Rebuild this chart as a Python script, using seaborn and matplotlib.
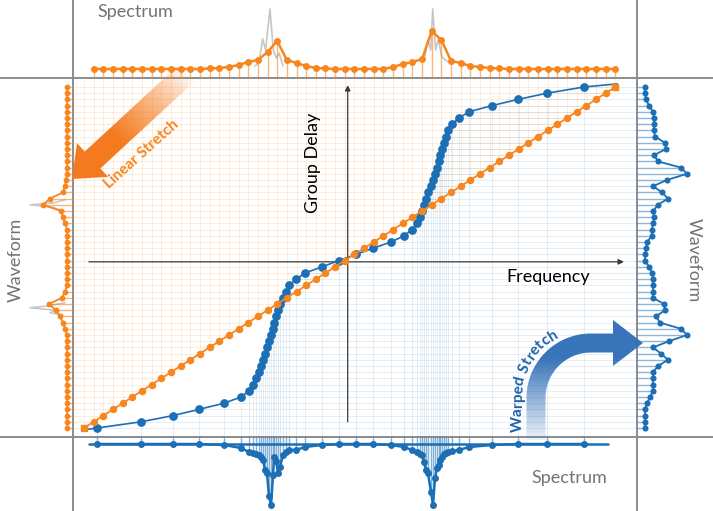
import numpy as np
import matplotlib.pyplot as plt
import seaborn as sns
from matplotlib.patches import FancyArrow, Polygon
from matplotlib.textpath import TextPath
from matplotlib.font_manager import FontProperties

# ---------------------------------------------------------------
# Data: frequency in bins, group delay / time in samples
# ---------------------------------------------------------------
delay_samples = np.arange(56)          # uniform time grid (both stretches)
linear_freq = np.arange(56)            # linear stretch: one bin per sample

# warped stretch: frequency bin reached at each delay sample
warped_freq = [1.35, 5.90, 9.21, 11.90, 14.49, 16.25, 17.08, 17.49, 17.81, 18.12,
               18.32, 18.53, 18.74, 18.94, 19.15, 19.36, 19.57, 19.67, 19.88, 20.08,
               20.29, 20.60, 20.91, 21.22, 21.95, 22.88, 24.64, 26.40, 28.16, 29.92,
               31.78, 33.13, 33.95, 34.47, 34.78, 34.99, 35.20, 35.40, 35.61, 35.92,
               36.13, 36.34, 36.54, 36.75, 36.85, 37.06, 37.27, 37.47, 37.68, 38.10,
               38.82, 39.86, 42.24, 44.93, 47.93, 51.76]
warped_ends_freq = [-0.1, 55.2]
warped_ends_delay = [-0.3, 55.5]

# top spectrum (orange samples, bins 1..55)
linear_spectrum_bins = np.arange(1, 56)
linear_spectrum = [9, 9, 9, 9, 9, 9, 9, 9, 9, 9, 9, 9,
                   9.5, 10, 11, 13, 16, 18, 26, 37, 18, 15, 12, 10, 9.5,
                   9, 9, 9, 9, 9, 9,
                   11, 14, 16, 19, 47, 38, 17, 15, 12, 11, 10, 9.5,
                   9, 9, 9, 9, 9, 9, 9, 9, 9, 9, 9, 9]

# continuous (gray) spectrum around the two resonances
gray_peak1_freq = [17.7, 18.1, 18.5, 18.8, 19.25, 19.6, 19.9, 20.2, 20.6]
gray_peak1_mag = [12, 15, 39, 28, 69, 28, 20, 25, 12]
gray_peak2_freq = [34.8, 35.3, 35.6, 35.9, 36.1, 36.4, 36.7, 37.0, 37.4, 37.9]
gray_peak2_mag = [18, 22, 38, 28, 69, 28, 39, 22, 18, 15]

# bottom spectrum (blue samples at warped bins), drawn downward
warped_spectrum = [7, 7, 7, 7, 8, 11, 15, 16, 17, 18, 20, 23, 33, 36, 59, 68,
                   38, 20, 24, 36, 30, 18, 15, 13, 13, 10, 8, 7, 7, 7, 8, 10,
                   13, 15, 17, 18, 25, 33, 36, 55, 68, 41, 31, 28, 23, 20, 17,
                   16, 15, 14, 13, 10, 8, 7, 7, 7]
warped_spectrum_ends = [0.5, 54.2]     # baseline extent of the blue spectrum trace

# waveforms (amplitude per delay sample)
linear_waveform = [6, 6, 6, 6, 6, 6, 6, 6, 6, 6, 6, 6, 6, 6, 6, 6,
                   8, 10, 13, 17, 24, 11, 8,
                   6, 6, 6, 6, 6, 6, 6, 6, 6, 6,
                   8, 10, 12, 30, 23, 10, 8, 7,
                   6, 6, 6, 6, 6, 6, 6, 6, 6, 6, 6, 6, 6, 6, 6]
gray_wave1_delay = [18.2, 18.6, 19.0, 19.4, 19.7, 20.2]
gray_wave1_amp = [10, 23, 18, 43, 25, 8]
gray_wave2_delay = [35.0, 35.3, 35.6, 36.0, 36.3, 36.8]
gray_wave2_amp = [10, 15, 20, 43, 20, 8]

warped_waveform = [8, 8, 8, 8, 10, 13, 16, 16, 16, 16, 21, 31, 24, 16, 32, 50,
                   44, 23, 19, 28, 27, 16, 16, 16, 16, 15, 12, 8, 8, 9, 10, 15,
                   15, 16, 17, 16, 21, 31, 25, 16, 30, 50, 44, 21, 17, 29, 28,
                   18, 17, 17, 17, 16, 12, 9, 8, 8]

ORANGE = '#f7861e'
BLUE = '#1c6fb5'
GRAY = '#8c8c8c'
TEXT_GRAY = '#737373'

sns.set_theme(style="white")
plt.rcParams['font.family'] = ['Lato', 'DejaVu Sans']

W, H = 713, 511
fig = plt.figure(figsize=(W / 100, H / 100), dpi=100)


def px_axes(x0, y0, x1, y1, **kw):
    """Axes placed by pixel box (top-left origin)."""
    a = fig.add_axes([x0 / W, 1 - y1 / H, (x1 - x0) / W, (y1 - y0) / H], **kw)
    a.axis('off')
    return a


FREQ_LIM = (-1.14, 57.25)
DELAY_LIM = (-1.45, 56.45)
line_kw = dict(estimator=None, sort=False, markeredgewidth=0)

# ---- background frame lines ----
back = px_axes(0, 0, W, H, zorder=-1)
back.set_xlim(0, W)
back.set_ylim(H, 0)
for yy in (78, 437):
    back.plot([0, W], [yy, yy], color=GRAY, lw=1.4)
for xx in (73, 637):
    back.plot([xx, xx], [0, H], color=GRAY, lw=1.4)

# ---- main group delay panel ----
ax = px_axes(73, 78, 637, 437)
ax.set_xlim(FREQ_LIM)
ax.set_ylim(DELAY_LIM)
ax.vlines(linear_freq, delay_samples, DELAY_LIM[1], color=ORANGE, alpha=0.2, lw=0.55)
ax.hlines(delay_samples, FREQ_LIM[0], linear_freq, color=ORANGE, alpha=0.2, lw=0.55)
ax.vlines(warped_freq, DELAY_LIM[0], delay_samples, color=BLUE, alpha=0.13, lw=0.6)
ax.hlines(delay_samples, warped_freq, FREQ_LIM[1], color=BLUE, alpha=0.13, lw=0.6)

arrow_kw = dict(arrowstyle='-|>', color='#3a3a3a', lw=0.9, mutation_scale=8,
                shrinkA=0, shrinkB=0)
ax.annotate('', xy=(55.9, 26.8), xytext=(0.5, 26.8), arrowprops=arrow_kw)
ax.annotate('', xy=(27.3, 55.3), xytext=(27.3, 1.0), arrowprops=arrow_kw)

blue_x = np.r_[warped_ends_freq[0], warped_freq, warped_ends_freq[1]]
blue_y = np.r_[warped_ends_delay[0], delay_samples, warped_ends_delay[1]]
sns.lineplot(x=blue_x, y=blue_y, ax=ax, color=BLUE, linewidth=1.2, marker='o',
             markersize=6.3, markevery=list(range(1, len(blue_x) - 1)), zorder=3, **line_kw)
sns.lineplot(x=linear_freq, y=delay_samples, ax=ax, color=ORANGE, linewidth=1.3,
             marker='o', markersize=5.4, markevery=list(range(1, 55)), zorder=4, **line_kw)
ax.plot(linear_freq[[0, -1]], delay_samples[[0, -1]], 's', color=ORANGE, ms=4.5, zorder=5)

# ---- top spectrum (linear) ----
top = px_axes(73, 0, 637, 78)
top.set_xlim(FREQ_LIM)
top.set_ylim(0, 78)
top.plot(gray_peak1_freq, gray_peak1_mag, color='#c6c6c6', lw=1.2)
top.plot(gray_peak2_freq, gray_peak2_mag, color='#c6c6c6', lw=1.2)
top.vlines(linear_spectrum_bins, 0, linear_spectrum, color=ORANGE, alpha=0.6, lw=1)
sns.lineplot(x=linear_spectrum_bins, y=linear_spectrum, ax=top, color=ORANGE,
             linewidth=1.8, marker='o', markersize=5, **line_kw)

# ---- bottom spectrum (warped) ----
bot = px_axes(73, 437, 637, 511)
bot.set_xlim(FREQ_LIM)
bot.set_ylim(74, 0)
bot.plot(warped_spectrum_ends, [warped_spectrum[0], warped_spectrum[-1]],
         color=BLUE, lw=1.8)
bot.vlines(warped_freq, 0, warped_spectrum, color=BLUE, alpha=0.55, lw=1)
sns.lineplot(x=warped_freq, y=warped_spectrum, ax=bot, color=BLUE,
             linewidth=1.8, marker='o', markersize=5, **line_kw)

# ---- left waveform (linear) ----
left = px_axes(0, 78, 73, 437)
left.set_xlim(73, 0)
left.set_ylim(DELAY_LIM)
left.plot(gray_wave1_amp, gray_wave1_delay, color='#c6c6c6', lw=1.1)
left.plot(gray_wave2_amp, gray_wave2_delay, color='#c6c6c6', lw=1.1)
left.hlines(delay_samples, 0, linear_waveform, color=ORANGE, alpha=0.6, lw=1)
sns.lineplot(x=linear_waveform, y=delay_samples, ax=left, color=ORANGE,
             linewidth=1.3, marker='o', markersize=4.2, **line_kw)

# ---- right waveform (warped) ----
right = px_axes(637, 78, 713, 437)
right.set_xlim(0, 76)
right.set_ylim(DELAY_LIM)
right.hlines(delay_samples, 0, warped_waveform, color=BLUE, alpha=0.5, lw=1)
sns.lineplot(x=warped_waveform, y=delay_samples, ax=right, color=BLUE,
             linewidth=1.3, marker='o', markersize=4.4, **line_kw)

# ---- overlay: labels and stretch arrows ----
over = px_axes(0, 0, W, H, zorder=10)
over.set_xlim(0, W)
over.set_ylim(H, 0)
YY, XX = np.mgrid[0:H, 0:W] + 0.5


def gradient_fill(patch, color, alpha):
    patch.set_facecolor('none')
    patch.set_edgecolor('none')
    over.add_patch(patch)
    img = np.zeros((H, W, 4))
    img[..., :3] = plt.matplotlib.colors.to_rgb(color)
    img[..., 3] = alpha
    im = over.imshow(img, extent=(0, W, H, 0), origin='upper', aspect='auto',
                     interpolation='bilinear')
    im.set_clip_path(patch)


# linear stretch arrow (straight, fading toward its tail)
tail = np.array([190.0, 70.0])
tip = np.array([72.0, 179.0])
d = tip - tail
orange_arrow = FancyArrow(tail[0], tail[1], d[0], d[1], width=23, head_width=46,
                          head_length=28, length_includes_head=True)
t = ((XX - tail[0]) * d[0] + (YY - tail[1]) * d[1]) / (d @ d)
gradient_fill(orange_arrow, '#f47a1f', np.clip((t - 0.02) / 0.6, 0, 1) ** 0.85)

# warped stretch arrow (quarter bend, fading toward its bottom)
cx, cy = 591.0, 398.0
phi = np.linspace(0, np.pi / 2, 60)
r_out, r_in = 64.5, 45.5
pts = [(cx - r_out, 440)]
pts += [(cx - r_out * np.cos(p), cy - r_out * np.sin(p)) for p in phi]
pts += [(613, cy - r_out), (613, 320), (643, 343), (613, 366), (613, cy - r_in)]
pts += [(cx - r_in * np.cos(p), cy - r_in * np.sin(p)) for p in phi[::-1]]
pts += [(cx - r_in, 440)]
gradient_fill(Polygon(pts, closed=True), '#2d6db5', np.clip((448 - YY) / 90, 0, 1) * 0.95)

over.text(142, 154, 'Linear Stretch', rotation=42, rotation_mode='anchor',
          ha='center', va='center', color=ORANGE, fontsize=11, fontweight='bold')

# "Warped Stretch" set along the bent arrow
fs = 11
fp = FontProperties(family='Lato', weight='bold', size=fs * 100 / 72)
label = 'Warped Stretch'
r_base, straight, start = 69.0, 437 - cy, 5.0
for i, ch in enumerate(label):
    if ch == ' ':
        continue
    w_ch = TextPath((0, 0), ch, prop=fp).get_extents().width
    s = start + TextPath((0, 0), label[:i + 1], prop=fp).get_extents().x1 - w_ch / 2
    if s < straight:
        x, y, ang = cx - r_base, 437 - s, 90.0
    else:
        p = (s - straight) / r_base
        x, y, ang = cx - r_base * np.cos(p), cy - r_base * np.sin(p), 90 - np.degrees(p)
    over.text(x, y, ch, rotation=ang, rotation_mode='anchor', ha='center',
              va='baseline', color='#2160ab', fontsize=fs, fontweight='bold')

over.text(313, 163, 'Group Delay', rotation=90, ha='center', va='center',
          color='black', fontsize=13)
over.text(548, 277, 'Frequency', ha='center', va='center', color='black', fontsize=13)
over.text(135, 12, 'Spectrum', ha='center', va='center', color=TEXT_GRAY, fontsize=13)
over.text(569, 478, 'Spectrum', ha='center', va='center', color=TEXT_GRAY, fontsize=13)
over.text(16, 260, 'Waveform', rotation=90, ha='center', va='center',
          color=TEXT_GRAY, fontsize=13)
over.text(694, 260, 'Waveform', rotation=270, ha='center', va='center',
          color=TEXT_GRAY, fontsize=13)

fig.savefig('out.png', dpi=100)
plt.close(fig)
